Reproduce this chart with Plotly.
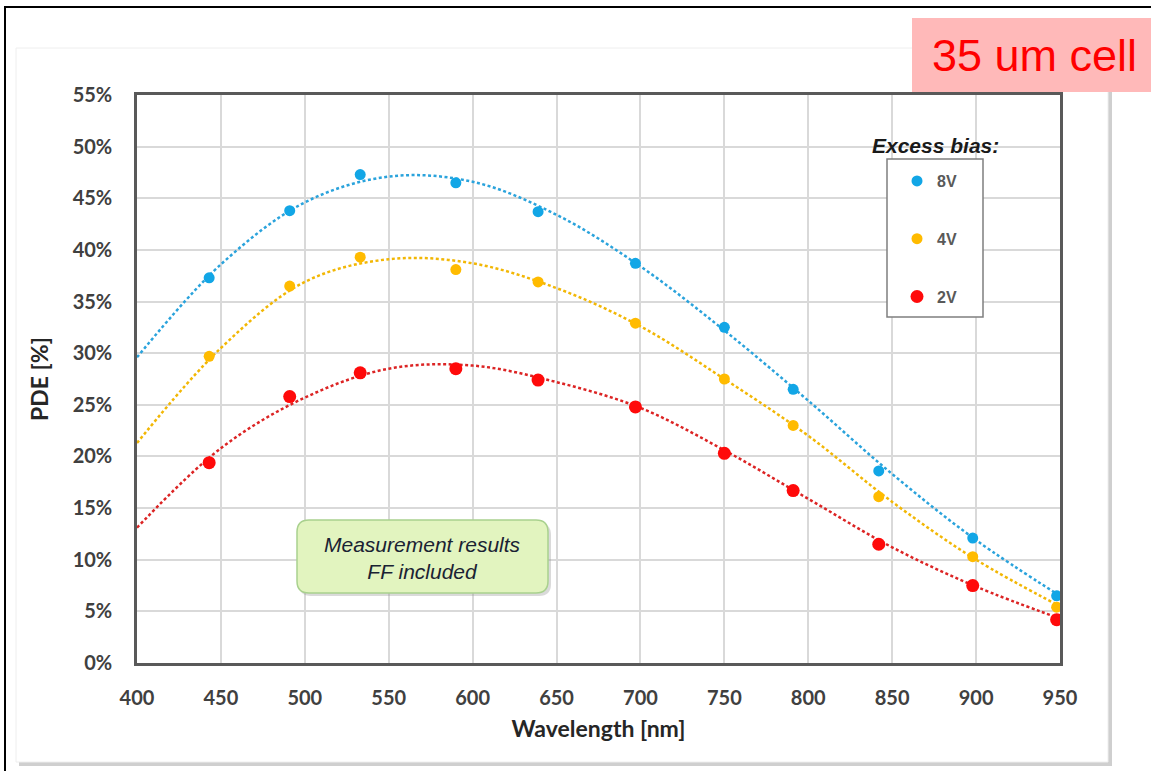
import plotly.graph_objects as go

# ---- data ----
wavelength = [443, 491, 533, 590, 639, 697, 750, 791, 842, 898, 948]
pde_8v = [37.3, 43.8, 47.3, 46.5, 43.7, 38.7, 32.5, 26.5, 18.6, 12.1, 6.5]
pde_4v = [29.7, 36.5, 39.3, 38.1, 36.9, 32.9, 27.5, 23.0, 16.1, 10.3, 5.4]
pde_2v = [19.4, 25.8, 28.1, 28.5, 27.4, 24.8, 20.3, 16.7, 11.5, 7.5, 4.2]

# trendlines (Excel polynomial fit)
trend_wl = [400, 450, 500, 550, 600, 650, 700, 750, 800, 850, 900, 950]
trend_8v = [29.6, 38.6, 44.6, 47.1, 46.6, 43.4, 38.4, 32.2, 25.4, 18.3, 11.9, 6.5]
trend_4v = [21.3, 30.5, 36.9, 39.1, 38.7, 36.3, 32.6, 27.5, 22.0, 15.6, 10.0, 5.5]
trend_2v = [13.1, 20.8, 25.7, 28.5, 28.8, 27.2, 24.7, 20.6, 15.9, 11.2, 7.4, 4.3]

x_ticks = list(range(400, 951, 50))
y_ticks = list(range(0, 56, 5))
y_ticklabels = [f"{v}%" for v in y_ticks]

names = ["8V", "4V", "2V"]
marker_colors = ["#12a6e6", "#ffbb00", "#ff0a0a"]
line_colors = ["#2aa3dc", "#f2b705", "#dc2424"]
marker_sizes = [11, 11, 13]

# ---- layout geometry (pixels) ----
W, H = 1151, 771
L, R, T, B = 137, 1060, 95, 663


def px(x):
    return (x - L) / (R - L)


def py(y):
    return (B - y) / (B - T)


fig = go.Figure()

for tw, ty, c in zip([trend_wl] * 3, [trend_8v, trend_4v, trend_2v], line_colors):
    fig.add_trace(go.Scatter(
        x=tw, y=ty, mode="lines", line=dict(color=c, width=2.5, dash="3px,2.5px", shape="spline"),
        showlegend=False, hoverinfo="skip"))

for name, ys, c, s in zip(names, [pde_8v, pde_4v, pde_2v], marker_colors, marker_sizes):
    fig.add_trace(go.Scatter(
        x=wavelength, y=ys, mode="markers", name=name, legendgroup=name,
        marker=dict(color=c, size=s, line=dict(width=0))))

shapes = []
# outer black frame
shapes.append(dict(type="rect", xref="paper", yref="paper", x0=px(5), x1=px(1190), y0=py(7), y1=py(800),
                   line=dict(color="black", width=2), fillcolor="rgba(0,0,0,0)", layer="below"))
# panel shadow + panel
shapes.append(dict(type="rect", xref="paper", yref="paper", x0=px(19), x1=px(1112), y0=py(51), y1=py(766),
                   line=dict(width=0), fillcolor="#cfcfcf", layer="below"))
shapes.append(dict(type="rect", xref="paper", yref="paper", x0=px(16), x1=px(1108), y0=py(48), y1=py(762),
                   line=dict(color="#eeeeee", width=1), fillcolor="white", layer="below"))
# pink title box
shapes.append(dict(type="rect", xref="paper", yref="paper", x0=px(912), x1=px(1170), y0=py(18), y1=py(92),
                   line=dict(width=0), fillcolor="#ffb9b9", layer="above"))
# legend box
shapes.append(dict(type="rect", xref="paper", yref="paper", x0=px(887), x1=px(983), y0=py(159), y1=py(317),
                   line=dict(color="#7f7f7f", width=1.5), fillcolor="white", layer="above"))


# green rounded box
def rounded(x0, y0, x1, y1, r):
    rx, ry = r / (R - L), r / (B - T)
    X0, X1, Y0, Y1 = px(x0), px(x1), py(y0), py(y1)  # Y0 top, Y1 bottom
    return (f"M {X0+rx},{Y0} L {X1-rx},{Y0} Q {X1},{Y0} {X1},{Y0-ry} "
            f"L {X1},{Y1+ry} Q {X1},{Y1} {X1-rx},{Y1} L {X0+rx},{Y1} "
            f"Q {X0},{Y1} {X0},{Y1+ry} L {X0},{Y0-ry} Q {X0},{Y0} {X0+rx},{Y0} Z")


shapes.append(dict(type="path", xref="paper", yref="paper", path=rounded(299, 523, 551, 596, 12),
                   line=dict(width=0), fillcolor="rgba(150,150,150,0.35)", layer="above"))
shapes.append(dict(type="path", xref="paper", yref="paper", path=rounded(297, 520, 548, 593, 12),
                   line=dict(color="#a9d18e", width=1.5), fillcolor="#e2f4bf", layer="above"))

annotations = [
    dict(text="35 um cell", xref="paper", yref="paper", x=px(1034), y=py(55), showarrow=False,
         font=dict(family="Liberation Sans, Arial", size=45, color="#ff0000"), xanchor="center", yanchor="middle"),
    dict(text="<b><i>Excess bias:</i></b>", xref="paper", yref="paper", x=px(935), y=py(145), showarrow=False,
         font=dict(family="Liberation Sans, Arial", size=21, color="#1a1a1a"), xanchor="center", yanchor="middle"),
    dict(text="<i>Measurement results<br>FF included</i>", xref="paper", yref="paper", x=px(422), y=py(558),
         showarrow=False, font=dict(family="Liberation Sans, Arial", size=21, color="#1a2233"),
         xanchor="center", yanchor="middle"),
]

tickfont = dict(family="Lato, Open Sans, sans-serif", size=20, color="#404040", weight="bold")
titlefont = dict(family="Lato, Open Sans, sans-serif", size=23, color="#262626", weight="bold")

fig.update_layout(
    width=W, height=H,
    margin=dict(l=L, r=W - R, t=T, b=H - B, pad=0),
    paper_bgcolor="white", plot_bgcolor="white",
    shapes=shapes, annotations=annotations,
    legend=dict(x=px(897), y=py(164), xanchor="left", yanchor="top", bgcolor="rgba(0,0,0,0)",
                borderwidth=0, tracegroupgap=34, itemwidth=30,
                font=dict(family="Liberation Sans, Arial", size=16, color="#595959", weight="bold")),
    xaxis=dict(range=[400, 950], tickvals=x_ticks, ticks="outside", ticklen=15, tickcolor="rgba(0,0,0,0)",
               showgrid=True, gridcolor="#d9d9d9", gridwidth=2, zeroline=False,
               showline=True, linecolor="#595959", linewidth=2.5, mirror=True,
               tickfont=tickfont, title=dict(text="Wavelength [nm]", font=titlefont, standoff=14)),
    yaxis=dict(range=[0, 55], tickvals=y_ticks, ticktext=y_ticklabels, ticks="outside", ticklen=18,
               tickcolor="rgba(0,0,0,0)",
               showgrid=True, gridcolor="#d9d9d9", gridwidth=2, zeroline=False,
               showline=True, linecolor="#595959", linewidth=2.5, mirror=True,
               tickfont=tickfont, title=dict(text="PDE [%]", font=titlefont, standoff=18)),
)

fig.write_html("out.html")
